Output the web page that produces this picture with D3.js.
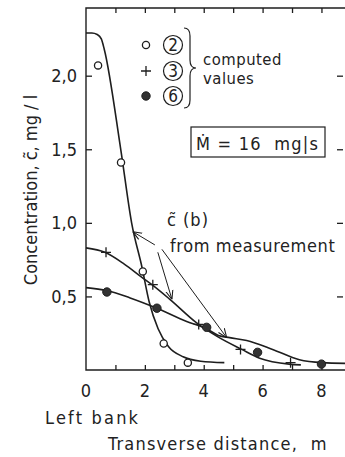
<!DOCTYPE html>
<html>
<head>
<meta charset="utf-8">
<script src="https://cdn.jsdelivr.net/npm/d3@7"></script>
<style>
  body { margin: 0; background: #fff; }
  text { font-family: "DejaVu Sans Condensed", "DejaVu Sans", sans-serif; font-stretch: condensed; fill: #222; }
</style>
</head>
<body>
<svg id="chart" width="345" height="457"></svg>
<script>
// computed values (symbols)
const pts2 = [[0.41, 2.07], [1.19, 1.41], [1.93, 0.67], [2.64, 0.18], [3.46, 0.05]];
const pts3 = [[0.68, 0.80], [2.27, 0.58], [3.83, 0.31], [5.25, 0.14], [6.95, 0.05]];
const pts6 = [[0.71, 0.53], [2.41, 0.42], [4.10, 0.29], [5.83, 0.12], [8.00, 0.04]];

// measured curves c(b)
const curve2 = [[0, 2.29], [0.2, 2.29], [0.38, 2.28], [0.52, 2.25], [0.62, 2.18], [1.18, 1.5], [1.55, 1.0],
  [1.9, 0.7], [2.15, 0.46], [2.45, 0.28], [2.8, 0.16], [3.3, 0.09], [3.9, 0.06], [4.7, 0.05]];
const curve3 = [[0, 0.83], [0.64, 0.80], [1.3, 0.72], [1.9, 0.63], [2.24, 0.58], [2.85, 0.48],
  [3.76, 0.32], [4.44, 0.23], [5.29, 0.14], [5.9, 0.08], [6.9, 0.04], [7.3, 0.035]];
const curve6 = [[0, 0.56], [0.71, 0.54], [1.5, 0.49], [2.41, 0.42], [3.42, 0.33], [4.1, 0.28],
  [4.5, 0.235], [4.88, 0.22], [5.46, 0.20], [6.34, 0.14], [7.25, 0.07], [8.03, 0.05], [8.8, 0.045]];

const xTicks = [0, 2, 4, 6, 8];
const xMinor = [1, 2, 3, 4, 5, 6, 7, 8];
const yTicks = [0.5, 1.0, 1.5, 2.0];

// arrows from "c(b) from measurement" label [from, to]
const arrows = [
  [[2.34, 0.85], [1.59, 0.94]],
  [[2.44, 0.80], [2.92, 0.48]],
  [[2.58, 0.82], [4.78, 0.22]]
];

const svg = d3.select('#chart');
const ink = '#1e1e1e';
const fs = 18;

const x = d3.scaleLinear().domain([0, 8.8]).range([86, 345]);
const y = d3.scaleLinear().domain([0, 2.46]).range([370, 8]);

// frame
svg.append('path')
  .attr('d', `M${x(8.8)},${y(2.46)}H${x(0)}V${y(0)}H${x(8.8)}`)
  .attr('fill', 'none').attr('stroke', ink).attr('stroke-width', 1.4);

// bottom axis (ticks inward)
const gx = svg.append('g').attr('transform', `translate(0,${y(0)})`)
  .call(d3.axisBottom(x).tickValues(xMinor).tickSize(-5).tickFormat(''));
gx.select('.domain').remove();
gx.selectAll('line').attr('stroke', ink).attr('stroke-width', 1.3);

svg.append('g').selectAll('text').data(xTicks).join('text')
  .attr('x', d => x(d)).attr('y', 397)
  .attr('text-anchor', 'middle').attr('font-size', fs)
  .text(d => d);

// top ticks
const gt = svg.append('g').attr('transform', `translate(0,${y(2.46)})`)
  .call(d3.axisTop(x).tickValues(xMinor).tickSize(-5).tickFormat(''));
gt.select('.domain').remove();
gt.selectAll('line').attr('stroke', ink).attr('stroke-width', 1.3);

// left axis
const gy = svg.append('g').attr('transform', `translate(${x(0)},0)`)
  .call(d3.axisLeft(y).tickValues(yTicks).tickSize(-6).tickPadding(9)
    .tickFormat(d => d3.format('.1f')(d).replace('.', ',')));
gy.select('.domain').remove();
gy.selectAll('line').attr('stroke', ink).attr('stroke-width', 1.3);
gy.selectAll('text').attr('font-size', fs).attr('font-family', null).attr('fill', '#222');

// right ticks
const gr = svg.append('g').attr('transform', `translate(343,0)`)
  .call(d3.axisRight(y).tickValues(yTicks).tickSize(-6).tickFormat(''));
gr.select('.domain').remove();
gr.selectAll('line').attr('stroke', ink).attr('stroke-width', 1.3);

// curves
const line = d3.line().x(d => x(d[0])).y(d => y(d[1])).curve(d3.curveMonotoneX);
[curve2, curve3, curve6].forEach(c => {
  svg.append('path').datum(c)
    .attr('d', line)
    .attr('fill', 'none').attr('stroke', ink).attr('stroke-width', 1.6);
});

// symbols
const openCircle = (g, cx, cy) => g.append('circle').attr('cx', cx).attr('cy', cy).attr('r', 3.6)
  .attr('fill', '#fff').attr('stroke', ink).attr('stroke-width', 1.3);
const plus = (g, cx, cy) => g.append('path').attr('d', `M${cx - 5},${cy}H${cx + 5}M${cx},${cy - 5}V${cy + 5}`)
  .attr('stroke', ink).attr('stroke-width', 1.3);
const dot = (g, cx, cy) => g.append('circle').attr('cx', cx).attr('cy', cy).attr('r', 4.2)
  .attr('fill', '#333').attr('stroke', ink).attr('stroke-width', 1);

const gs = svg.append('g');
pts2.forEach(d => openCircle(gs, x(d[0]), y(d[1])));
pts3.forEach(d => plus(gs, x(d[0]), y(d[1])));
pts6.forEach(d => dot(gs, x(d[0]), y(d[1])));

// legend
const legend = [
  { label: '2', draw: openCircle, yy: 45 },
  { label: '3', draw: plus, yy: 71 },
  { label: '6', draw: dot, yy: 96 }
];
legend.forEach(l => {
  l.draw(svg, 146, l.yy);
  svg.append('circle').attr('cx', 173).attr('cy', l.yy).attr('r', 9.5)
    .attr('fill', 'none').attr('stroke', ink).attr('stroke-width', 1.2);
  svg.append('text').attr('x', 173).attr('y', l.yy + 6)
    .attr('text-anchor', 'middle').attr('font-size', 17).text(l.label);
});
// brace
svg.append('path')
  .attr('d', 'M184,28 Q190,28 190,36 L190,60 Q190,68 196,68 Q190,68 190,76 L190,100 Q190,108 184,108')
  .attr('fill', 'none').attr('stroke', ink).attr('stroke-width', 1.2);
svg.append('text').attr('x', 203).attr('y', 65).attr('font-size', 16.5).attr('letter-spacing', 0.5).text('computed');
svg.append('text').attr('x', 203).attr('y', 84).attr('font-size', 16.5).attr('letter-spacing', 0.5).text('values');

// box
svg.append('rect').attr('x', 191).attr('y', 127).attr('width', 134).attr('height', 30)
  .attr('fill', 'none').attr('stroke', ink).attr('stroke-width', 1.2);
svg.append('text').attr('x', 196).attr('y', 150).attr('font-size', fs)
  .attr('letter-spacing', 1.2).attr('xml:space', 'preserve').text('Ṁ = 16  mg|s');

// annotation
svg.append('text').attr('x', 167).attr('y', 226).attr('font-size', fs)
  .attr('letter-spacing', 1).text('c̃ (b)');
svg.append('text').attr('x', 170).attr('y', 252).attr('font-size', fs)
  .attr('letter-spacing', 0.6).text('from measurement');

svg.append('defs').append('marker')
  .attr('id', 'ah').attr('viewBox', '0 0 10 10').attr('refX', 10).attr('refY', 5)
  .attr('markerWidth', 9).attr('markerHeight', 9).attr('orient', 'auto')
  .append('path').attr('d', 'M0,1 L10,5 L0,9').attr('fill', 'none')
  .attr('stroke', ink).attr('stroke-width', 1.2);
arrows.forEach(a => {
  svg.append('line')
    .attr('x1', x(a[0][0])).attr('y1', y(a[0][1]))
    .attr('x2', x(a[1][0])).attr('y2', y(a[1][1]))
    .attr('stroke', ink).attr('stroke-width', 1).attr('marker-end', 'url(#ah)');
});

// axis titles
svg.append('text').attr('transform', 'translate(37,190) rotate(-90)')
  .attr('text-anchor', 'middle').attr('font-size', fs)
  .attr('xml:space', 'preserve').text('Concentration, c̃, mg / l');
svg.append('text').attr('x', 45).attr('y', 424).attr('font-size', fs)
  .attr('letter-spacing', 2.2).text('Left bank');
svg.append('text').attr('x', 108).attr('y', 450).attr('font-size', fs)
  .attr('letter-spacing', 1.2).attr('xml:space', 'preserve').text('Transverse distance,  m');
</script>
</body>
</html>
